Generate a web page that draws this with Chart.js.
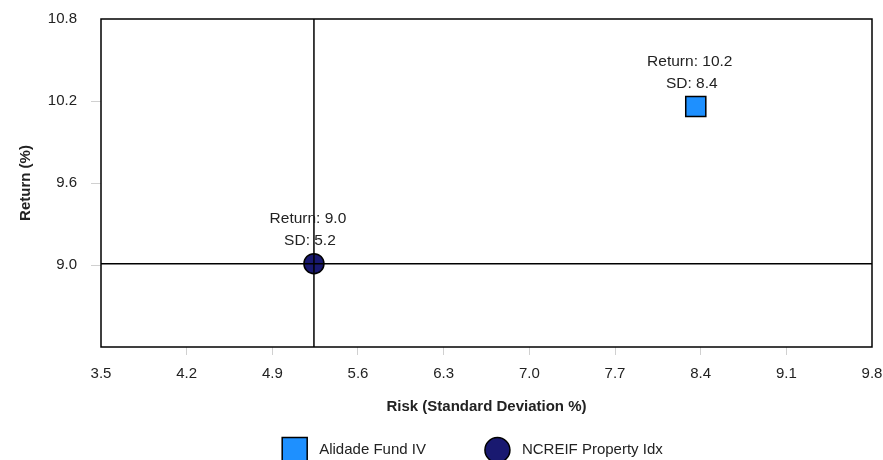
<!DOCTYPE html>
<html>
<head>
<meta charset="utf-8">
<script src="https://cdn.jsdelivr.net/npm/chart.js@4/dist/chart.umd.min.js"></script>
<style>
  html, body { margin: 0; padding: 0; background: #fff; }
  #wrap { width: 883px; height: 460px; position: relative; }
</style>
</head>
<body>
<div id="wrap"><canvas id="chart"></canvas></div>
<script>
// tick labels
const riskTicks = [3.5, 4.2, 4.9, 5.6, 6.3, 7.0, 7.7, 8.4, 9.1, 9.8];
const returnTicks = [9.0, 9.6, 10.2, 10.8];

// series
const seriesNames = ['Alidade Fund IV', 'NCREIF Property Idx'];
const riskValues = [8.36, 5.24];
const returnValues = [10.16, 9.01];

const xMin = 3.5, xMax = 9.8;
const yMin = 8.4, yMax = 10.8;

const FONT = "'Liberation Sans', Arial, Helvetica, sans-serif";
Chart.defaults.font.family = FONT;
Chart.defaults.font.size = 15;
Chart.defaults.color = '#222';

const fills = ['#1E90FF', '#191970'];
const shapes = ['rect', 'circle'];
const radii = [14.2, 10];

// crosshair goes through the benchmark point
const idx = 1;

const pointSets = seriesNames.map((name, i) => ({
    label: name,
    data: [{ x: riskValues[i], y: returnValues[i] }],
    pointStyle: shapes[i],
    pointRadius: radii[i],
    pointHoverRadius: radii[i],
    backgroundColor: fills[i],
    borderColor: '#000',
    pointBorderWidth: 1.5,
    showLine: false,
    order: 1
}));

const crossSets = [
    [{ x: riskValues[idx], y: yMin }, { x: riskValues[idx], y: yMax }],
    [{ x: xMin, y: returnValues[idx] }, { x: xMax, y: returnValues[idx] }]
].map(pts => ({
    label: 'cross',
    data: pts,
    showLine: true,
    borderColor: '#000',
    borderWidth: 1.5,
    pointRadius: 0,
    order: 0
}));

const hideEdge = (edges) => (ctx) =>
    (ctx.tick && edges.includes(ctx.tick.value)) ? 'rgba(0,0,0,0)' : '#d0d0d0';

const frame = {
    id: 'frame',
    beforeDatasetsDraw(chart) {
        const a = chart.chartArea, ctx = chart.ctx;
        ctx.save();
        ctx.strokeStyle = '#000';
        ctx.lineWidth = 1.5;
        ctx.strokeRect(a.left, a.top, a.right - a.left, a.bottom - a.top);
        ctx.restore();
    }
};

const pointLabels = {
    id: 'pointLabels',
    afterDatasetsDraw(chart) {
        const ctx = chart.ctx;
        ctx.save();
        ctx.font = '15.5px ' + FONT;
        ctx.fillStyle = '#222';
        ctx.textAlign = 'center';
        ctx.textBaseline = 'middle';
        seriesNames.forEach((n, i) => {
            const el = chart.getDatasetMeta(i).data[0];
            ctx.fillText('Return: ' + returnValues[i].toFixed(1), el.x - 6, el.y - 45);
            ctx.fillText('SD: ' + riskValues[i].toFixed(1), el.x - 4, el.y - 22.5);
        });
        ctx.restore();
    }
};

const legendBox = {
    id: 'legendBox',
    afterDraw(chart) {
        const ctx = chart.ctx;
        ctx.save();
        ctx.font = '15px ' + FONT;
        const widths = seriesNames.map(n => ctx.measureText(n).width);
        const mark = 25, gapText = 12, gapItem = 59;
        let total = 0;
        widths.forEach((w, i) => { total += mark + gapText + w + (i ? 0 : gapItem); });
        let x = 472.5 - total / 2;
        const cy = 450;
        seriesNames.forEach((n, i) => {
            ctx.fillStyle = fills[i];
            ctx.strokeStyle = '#000';
            ctx.lineWidth = 1.5;
            ctx.beginPath();
            if (shapes[i] === 'rect') {
                ctx.rect(x, cy - mark / 2, mark, mark);
            } else {
                ctx.arc(x + mark / 2, cy, mark / 2, 0, Math.PI * 2);
            }
            ctx.fill();
            ctx.stroke();
            ctx.fillStyle = '#222';
            ctx.textAlign = 'left';
            ctx.textBaseline = 'middle';
            ctx.fillText(n, x + mark + gapText, cy);
            x += mark + gapText + widths[i] + gapItem;
        });
        ctx.restore();
    }
};

new Chart(document.getElementById('chart'), {
    type: 'scatter',
    data: { datasets: pointSets.concat(crossSets) },
    options: {
        responsive: true,
        maintainAspectRatio: false,
        animation: false,
        events: [],
        layout: { autoPadding: false, padding: { top: 19, right: 11, bottom: 43, left: 0 } },
        plugins: {
            legend: { display: false },
            tooltip: { enabled: false }
        },
        scales: {
            x: {
                type: 'linear',
                min: xMin,
                max: xMax,
                afterBuildTicks: (s) => { s.ticks = riskTicks.map(v => ({ value: v })); },
                afterFit: (s) => { s.height = 70; s.paddingLeft = 0; s.paddingRight = 0; },
                ticks: { padding: 10, callback: (v) => Number(v).toFixed(1) },
                grid: { drawOnChartArea: false, drawTicks: true, tickLength: 8, tickColor: hideEdge([xMin, xMax]) },
                border: { display: false },
                title: { display: true, text: 'Risk (Standard Deviation %)', font: { weight: 'bold', size: 15 }, padding: { top: 0, bottom: 1 } }
            },
            y: {
                type: 'linear',
                min: yMin,
                max: yMax,
                afterBuildTicks: (s) => { s.ticks = returnTicks.map(v => ({ value: v })); },
                afterFit: (s) => { s.width = 101; s.paddingTop = 0; s.paddingBottom = 0; },
                ticks: { padding: 14, callback: (v) => Number(v).toFixed(1) },
                grid: { drawOnChartArea: false, drawTicks: true, tickLength: 10, tickColor: hideEdge([yMax]) },
                border: { display: false },
                title: { display: true, text: 'Return (%)', font: { weight: 'bold', size: 15 }, padding: { top: 17, bottom: 0 } }
            }
        }
    },
    plugins: [frame, pointLabels, legendBox]
});
</script>
</body>
</html>
